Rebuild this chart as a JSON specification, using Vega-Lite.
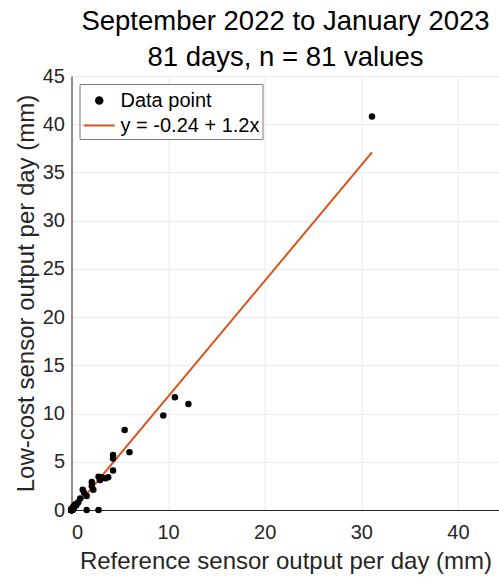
{
  "$schema": "https://vega.github.io/schema/vega-lite/v6.json",
  "autosize": {"type": "none"},
  "padding": {"left": 71.5, "top": 76, "right": 0, "bottom": 71},
  "width": 428,
  "height": 434,
  "title": {
    "text": ["September 2022 to January 2023", "81 days, n = 81 values"],
    "fontSize": 27.5,
    "font": "Liberation Sans",
    "fontWeight": "normal",
    "color": "#000000",
    "anchor": "middle",
    "lineHeight": 36,
    "offset": -5
  },
  "config": {
    "view": {"stroke": null},
    "font": "Liberation Sans",
    "axis": {
      "domainColor": "#262626",
      "domainWidth": 1,
      "gridColor": "#ebebeb",
      "gridWidth": 1,
      "ticks": false,
      "labelColor": "#262626",
      "labelFontSize": 20,
      "titleColor": "#262626",
      "titleFontSize": 24,
      "titleFontWeight": "normal"
    },
    "legend": {
      "labelFontSize": 20,
      "labelColor": "#000000",
      "strokeColor": "#7a7a7a",
      "fillColor": "#ffffff",
      "padding": 3,
      "rowPadding": 1,
      "labelOffset": 11
    }
  },
  "datasets": {
    "pts": [
      {"ref": 31.1, "low": 40.8, "series": "Data point"},
      {"ref": 10.7, "low": 11.7, "series": "Data point"},
      {"ref": 12.1, "low": 11.0, "series": "Data point"},
      {"ref": 9.5, "low": 9.8, "series": "Data point"},
      {"ref": 5.5, "low": 8.3, "series": "Data point"},
      {"ref": 6.0, "low": 6.0, "series": "Data point"},
      {"ref": 4.3, "low": 5.7, "series": "Data point"},
      {"ref": 4.3, "low": 5.35, "series": "Data point"},
      {"ref": 4.3, "low": 4.1, "series": "Data point"},
      {"ref": 3.8, "low": 3.4, "series": "Data point"},
      {"ref": 3.5, "low": 3.3, "series": "Data point"},
      {"ref": 3.1, "low": 3.4, "series": "Data point"},
      {"ref": 2.8, "low": 3.45, "series": "Data point"},
      {"ref": 2.95, "low": 3.1, "series": "Data point"},
      {"ref": 2.1, "low": 2.9, "series": "Data point"},
      {"ref": 2.1, "low": 2.5, "series": "Data point"},
      {"ref": 2.26, "low": 2.1, "series": "Data point"},
      {"ref": 1.16, "low": 2.1, "series": "Data point"},
      {"ref": 1.3, "low": 1.8, "series": "Data point"},
      {"ref": 1.57, "low": 1.45, "series": "Data point"},
      {"ref": 1.57, "low": 0, "series": "Data point"},
      {"ref": 2.8, "low": 0, "series": "Data point"},
      {"ref": 0.9, "low": 1.2, "series": "Data point"},
      {"ref": 0.7, "low": 0.8, "series": "Data point"},
      {"ref": 0.5, "low": 0.5, "series": "Data point"},
      {"ref": 0.4, "low": 0.6, "series": "Data point"},
      {"ref": 0.3, "low": 0.3, "series": "Data point"},
      {"ref": 0.2, "low": 0.4, "series": "Data point"},
      {"ref": 0.2, "low": 0.1, "series": "Data point"},
      {"ref": 0.1, "low": 0.2, "series": "Data point"},
      {"ref": 0.1, "low": 0, "series": "Data point"},
      {"ref": 0, "low": 0.1, "series": "Data point"},
      {"ref": 0, "low": 0, "series": "Data point"},
      {"ref": 0, "low": 0, "series": "Data point"},
      {"ref": 0, "low": 0, "series": "Data point"},
      {"ref": 0, "low": 0, "series": "Data point"},
      {"ref": 0, "low": 0, "series": "Data point"},
      {"ref": 0, "low": 0, "series": "Data point"},
      {"ref": 0, "low": 0, "series": "Data point"},
      {"ref": 0, "low": 0, "series": "Data point"},
      {"ref": 0, "low": 0, "series": "Data point"},
      {"ref": 0, "low": 0, "series": "Data point"},
      {"ref": 0, "low": 0, "series": "Data point"},
      {"ref": 0, "low": 0, "series": "Data point"},
      {"ref": 0, "low": 0, "series": "Data point"},
      {"ref": 0, "low": 0, "series": "Data point"},
      {"ref": 0, "low": 0, "series": "Data point"},
      {"ref": 0, "low": 0, "series": "Data point"},
      {"ref": 0, "low": 0, "series": "Data point"},
      {"ref": 0, "low": 0, "series": "Data point"},
      {"ref": 0, "low": 0, "series": "Data point"},
      {"ref": 0, "low": 0, "series": "Data point"},
      {"ref": 0, "low": 0, "series": "Data point"},
      {"ref": 0, "low": 0, "series": "Data point"},
      {"ref": 0, "low": 0, "series": "Data point"},
      {"ref": 0, "low": 0, "series": "Data point"},
      {"ref": 0, "low": 0, "series": "Data point"},
      {"ref": 0, "low": 0, "series": "Data point"},
      {"ref": 0, "low": 0, "series": "Data point"},
      {"ref": 0, "low": 0, "series": "Data point"},
      {"ref": 0, "low": 0, "series": "Data point"},
      {"ref": 0, "low": 0, "series": "Data point"},
      {"ref": 0, "low": 0, "series": "Data point"},
      {"ref": 0, "low": 0, "series": "Data point"},
      {"ref": 0, "low": 0, "series": "Data point"},
      {"ref": 0, "low": 0, "series": "Data point"},
      {"ref": 0, "low": 0, "series": "Data point"},
      {"ref": 0, "low": 0, "series": "Data point"},
      {"ref": 0, "low": 0, "series": "Data point"},
      {"ref": 0, "low": 0, "series": "Data point"},
      {"ref": 0, "low": 0, "series": "Data point"},
      {"ref": 0, "low": 0, "series": "Data point"},
      {"ref": 0, "low": 0, "series": "Data point"},
      {"ref": 0, "low": 0, "series": "Data point"},
      {"ref": 0, "low": 0, "series": "Data point"},
      {"ref": 0, "low": 0, "series": "Data point"},
      {"ref": 0, "low": 0, "series": "Data point"},
      {"ref": 0, "low": 0, "series": "Data point"},
      {"ref": 0, "low": 0, "series": "Data point"},
      {"ref": 0, "low": 0, "series": "Data point"},
      {"ref": 0, "low": 0, "series": "Data point"}
    ],
    "fit": [
      {"ref": 0, "low": -0.24, "series": "y = -0.24 + 1.2x"},
      {"ref": 31.1, "low": 37.08, "series": "y = -0.24 + 1.2x"}
    ]
  },
  "encoding": {
    "x": {
      "field": "ref",
      "type": "quantitative",
      "scale": {"domain": [0, 44.3], "nice": false, "zero": false},
      "axis": {
        "title": "Reference sensor output per day (mm)",
        "values": [0, 10, 20, 30, 40],
        "labelPadding": 12,
        "titlePadding": 7
      }
    },
    "y": {
      "field": "low",
      "type": "quantitative",
      "scale": {"domain": [0, 45], "nice": false, "zero": false},
      "axis": {
        "title": "Low-cost sensor output per day (mm)",
        "values": [0, 5, 10, 15, 20, 25, 30, 35, 40, 45],
        "labelPadding": 7,
        "titlePadding": 4
      }
    },
    "color": {
      "field": "series",
      "type": "nominal",
      "scale": {
        "domain": ["Data point", "y = -0.24 + 1.2x"],
        "range": ["#000000", "#D95319"]
      },
      "legend": {
        "title": null,
        "orient": "top-left",
        "offset": 8,
        "symbolStrokeWidth": 2,
        "encode": {
          "symbols": {
            "update": {
              "shape": {"signal": "datum.value === 'Data point' ? 'M0,0A0.26,0.26,0,1,1,0.52,0A0.26,0.26,0,1,1,0,0Z' : 'M-0.98,0H1.5'"},
              "size": {"value": 625},
              "fill": {"signal": "datum.value === 'Data point' ? '#000000' : 'transparent'"},
              "stroke": {"signal": "datum.value === 'Data point' ? 'transparent' : '#D95319'"},
              "strokeWidth": {"value": 2},
              "opacity": {"value": 1}
            }
          }
        }
      }
    }
  },
  "layer": [
    {
      "data": {"name": "fit"},
      "mark": {"type": "line", "strokeWidth": 2, "clip": true}
    },
    {
      "data": {"name": "pts"},
      "mark": {"type": "point", "filled": true, "size": 42, "opacity": 1}
    }
  ]
}
